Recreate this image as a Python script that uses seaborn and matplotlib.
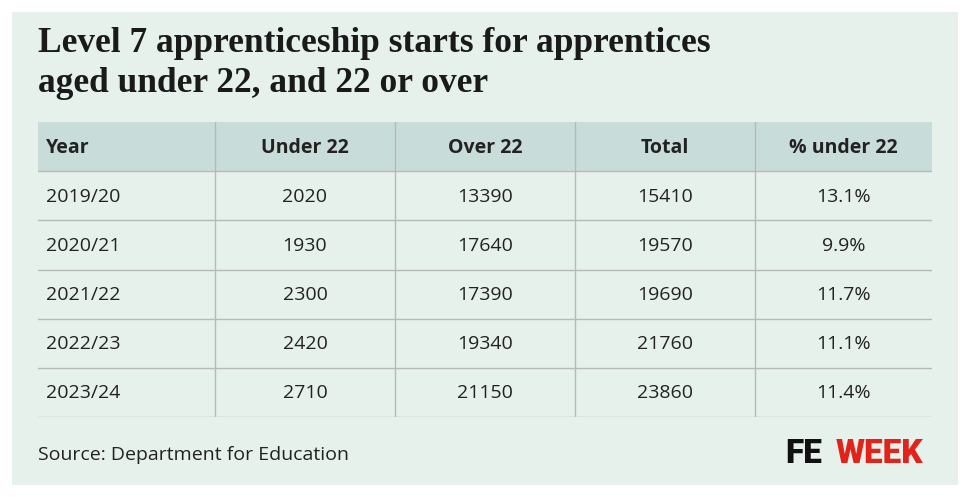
import matplotlib
matplotlib.use("Agg")
import matplotlib.pyplot as plt
import seaborn as sns
from matplotlib.patches import Rectangle

sns.set_theme(style="white")
plt.rcParams['font.family'] = ['Open Sans', 'DejaVu Sans']

title = "Level 7 apprenticeship starts for apprentices\naged under 22, and 22 or over"
headers = ["Year", "Under 22", "Over 22", "Total", "% under 22"]
years = ["2019/20", "2020/21", "2021/22", "2022/23", "2023/24"]
under22 = [2020, 1930, 2300, 2420, 2710]
over22 = [13390, 17640, 17390, 19340, 21150]
total = [15410, 19570, 19690, 21760, 23860]
pct_under22 = ["13.1%", "9.9%", "11.7%", "11.1%", "11.4%"]
source = "Source: Department for Education"

BG = "#e6f1ec"
HEAD = "#c8dcd9"
LINE = "#b5b9b7"
TXT = "#222222"

fig = plt.figure(figsize=(9.7, 4.97), dpi=100)
fig.patch.set_facecolor("white")
fig.patches.append(Rectangle((12/970, 12/497), 946/970, 473/497, transform=fig.transFigure,
                             facecolor=BG, edgecolor="none", zorder=-5))
fig.text(38/970, 1-27/497, title, family="Liberation Serif", weight="bold", fontsize=25.5,
         color="#1a1a1a", va="top", ha="left", linespacing=1.3)

ax = fig.add_axes([38/970, 1-417/497, 894/970, 295/497], zorder=2)
ax.patch.set_alpha(0)
edges = [0, 177, 357, 537, 717, 894]
nrows = len(years) + 1
ax.set_xlim(0, 894)
ax.set_ylim(nrows, 0)
ax.axis("off")

ax.add_patch(Rectangle((0, 0), 894, 1, facecolor=HEAD, edgecolor="none"))
for e in edges[1:-1]:
    ax.plot([e, e], [0, nrows], color=LINE, lw=1)
for r in range(1, nrows + 1):
    ax.plot([0, 894], [r, r], color=LINE, lw=1)

rows = [headers] + [[y, str(u), str(o), str(t), p] for y, u, o, t, p in
                    zip(years, under22, over22, total, pct_under22)]
for i, row in enumerate(rows):
    for j, val in enumerate(row):
        if j == 0:
            x, ha = 8, "left"
        else:
            x, ha = (edges[j] + edges[j+1]) / 2, "center"
        ax.text(x, i + 0.52, val, ha=ha, va="center", fontsize=14, color=TXT,
                weight="bold" if i == 0 else "normal")

fig.text(38/970, 1-455/497, source, fontsize=14, color=TXT, va="center", ha="left")
fig.text(785/970, 1-454/497, "FE", fontsize=24, weight="black", color="#111111",
         va="center", ha="left", family="Roboto")
fig.text(836/970, 1-454/497, "WEEK", fontsize=24, weight="black", color="#e2231a",
         va="center", ha="left", family="Roboto")

fig.savefig("out.png", dpi=100, facecolor="white")
